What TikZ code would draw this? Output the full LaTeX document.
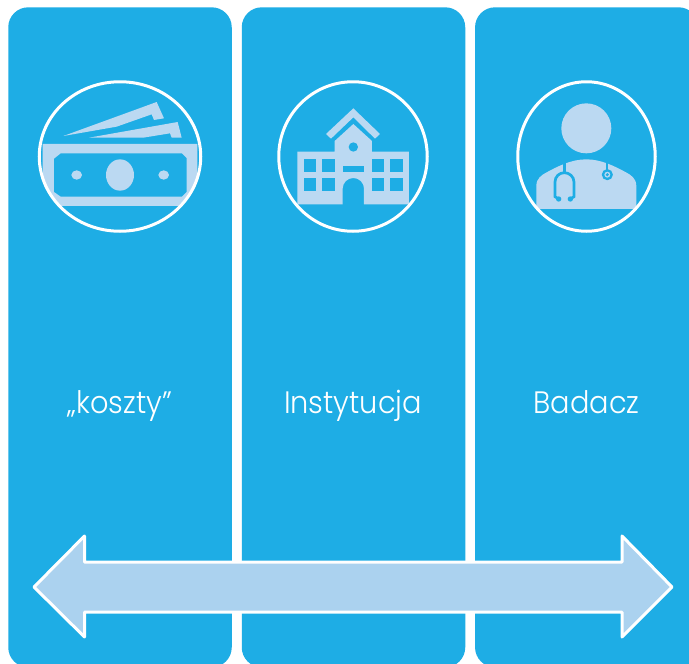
\documentclass[tikz,border=0pt]{standalone}
\usepackage{fontspec}
\setmainfont{Poppins Light}[FakeStretch=0.93]
\usetikzlibrary{shapes.geometric}
\definecolor{panelblue}{HTML}{1EADE5}
\definecolor{iconblue}{HTML}{BBD9F2}
\definecolor{arrowblue}{HTML}{ABD2EF}
\tikzset{
  panel/.style={rectangle,rounded corners=20pt,fill=panelblue,inner sep=0pt,minimum width=223.5pt,minimum height=660pt},
  ring/.style={ellipse,draw=white,line width=3pt,inner sep=0pt},
  label/.style={text=white,font=\fontsize{31}{36}\selectfont,inner sep=0pt,anchor=base},
  icon/.style={x=0.33333pt,y=-0.33333pt}
}
\begin{document}
\begin{tikzpicture}[x=1pt,y=-1pt]
  \clip (0,0) rectangle (689,664);
  \fill[white] (0,0) rectangle (689,664);

  \foreach \name/\x in {panelA/120,panelB/353.5,panelC/586.8}
    \node[panel] (\name) at (\x,337.3) {};

  % banknotes
  \begin{scope}[icon,shift={(60,180)}]
    \begin{scope}
      \clip (300,289) ellipse [x radius=240,y radius=222];
      \fill[iconblue,even odd rule] (68,252) rectangle (532,438)
        (122,280) -- (486,280) -- (500,294) -- (500,396) -- (486,410) -- (122,410) -- (102,396) -- (102,296) -- cycle;
    \end{scope}
    \fill[iconblue] (130,228) -- (410,126) -- (432,175) -- (402,180) -- (395,163) -- (290,200) -- cycle;
    \fill[iconblue] (207,233) -- (473,186) -- (485,233) -- (455,233) -- (450,220) -- (370,233) -- cycle;
    \fill[iconblue] (300,345) ellipse [x radius=42,y radius=47];
    \fill[iconblue] (170,345) ellipse [x radius=16,y radius=14];
    \fill[iconblue] (431,345) ellipse [x radius=16,y radius=14];
  \end{scope}

  % school
  \begin{scope}[icon,shift={(780,180)}]
    \fill[iconblue] (280,145) -- (360,222) -- (345,236) -- (280,172) -- (213,236) -- (198,222) -- cycle;
    \fill[iconblue] (112,275) -- (224,275) -- (224,243) -- (280,192) -- (336,243) -- (336,275) -- (447,275) -- (447,433)
      -- (312,433) -- (312,386) arc [start angle=0,end angle=-180,x radius=32,y radius=32] -- (248,433) -- (112,433) -- cycle;
    \foreach \wx/\wy in {132/298,187/298,132/354,187/354,336/298,391/298,336/354,391/354}
      \fill[panelblue] (\wx,\wy) rectangle ++(37,38);
    \fill[panelblue] (248,317) rectangle (312,335);
    \fill[panelblue] (280,261) circle [radius=14];
  \end{scope}

  % doctor
  \begin{scope}[icon,shift={(1500,180)}]
    \fill[iconblue] (259,205) circle [radius=75];
    \fill[iconblue] (109,447) -- (109,378) .. controls (109,355) and (125,345) .. (140,337)
      .. controls (175,318) and (215,298) .. (259,298) .. controls (303,298) and (343,318) .. (378,337)
      .. controls (393,345) and (409,355) .. (409,378) -- (409,447) -- cycle;
    \draw[panelblue,line width=2.7pt] (193,308) -- (193,338);
    \draw[panelblue,line width=2.7pt] (176,417) -- (165,410) -- (165,366)
      .. controls (165,350) and (178,338) .. (193,338) .. controls (208,338) and (222,350) .. (222,366) -- (222,410) -- (211,417);
    \fill[panelblue] (176,417) circle [radius=8];
    \fill[panelblue] (211,417) circle [radius=8];
    \draw[panelblue,line width=2.3pt] (322,308) -- (322,330);
    \draw[panelblue,line width=2.3pt] (322,344) circle [radius=13];
    \fill[panelblue] (322,344) circle [radius=5];
  \end{scope}

  \node[ring,minimum width=161.5pt,minimum height=149.5pt] (moneyring) at (120,156.5) {};
  \node[ring,minimum width=148.5pt,minimum height=149.5pt] (schoolring) at (353,156.5) {};
  \node[ring,minimum width=137.5pt,minimum height=149.5pt] (doctorring) at (586.5,156.5) {};

  \node[label] (koszty) at (120,413.5) {„koszty”};
  \node[label] (instytucja) at (353,413.5) {Instytucja};
  \node[label] (badacz) at (586.5,413.5) {Badacz};

  % wide arrow over the panels
  \draw[fill=arrowblue,draw=white,line width=3pt,line join=round]
    (34,587) -- (84.5,536) -- (84.5,562) -- (622,562) -- (622,536) -- (672,587) -- (622,637) -- (622,612) -- (84.5,612) -- (84.5,637) -- cycle;
\end{tikzpicture}
\end{document}
